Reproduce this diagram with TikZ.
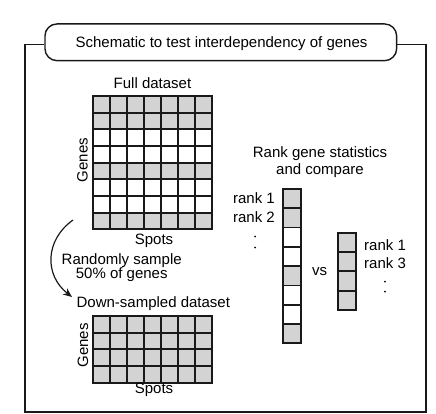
\documentclass[tikz,border=0pt]{standalone}
\usepackage{fontspec}
\setmainfont{Liberation Sans}
\usetikzlibrary{arrows.meta}
\definecolor{cellgray}{RGB}{211,211,211}
\definecolor{ink}{RGB}{25,25,25}
\begin{document}
\begin{tikzpicture}[x=1pt,y=-1pt,
  font=\fontsize{15}{17}\selectfont,
  lbl/.style={inner sep=0pt, anchor=base},
  cellbox/.style={draw=ink, line width=1.8pt},
  framebox/.style={draw=ink, line width=1.4pt},
  dotmark/.style={fill=black, draw=none, inner sep=0pt, minimum size=2pt, circle},
 ]
\useasboundingbox (0,0) rectangle (436,414);
% frame and title
\node[framebox, rounded corners=12pt, minimum width=351.7pt, minimum height=36.7pt, inner sep=0pt]
  (title) at (220.8,42.3) {};
\node[lbl] (titletext) at (221.5,48) {Schematic to test interdependency of genes};
\draw[framebox] ([yshift=-2pt]title.west) -| (25,412) -| (426,44.3) -- ([yshift=-2pt]title.east);
% full dataset grid
\node[lbl] (fulllbl) at (152.5,88.5) {Full dataset};
\foreach \r/\f in {0/cellgray,1/cellgray,2/white,3/white,4/cellgray,5/white,6/white,7/cellgray}{
  \foreach \c in {0,...,6}{
    \draw[cellbox, fill=\f] ({93.3+\c*16.91},{96+\r*16.67}) rectangle ++(16.91,16.67);
  }
}
\node[lbl, rotate=90] (genes1) at (87.5,160) {Genes};
\node[lbl] (spots1) at (154,244) {Spots};
% arrow
\coordinate (arrS) at (73,220);
\coordinate (arrE) at (72,297);
\draw[ink, line width=1.2pt, -{Stealth[length=9pt,width=7.5pt]}] (arrS) .. controls (45,240) and (44,275) .. (arrE);
\node[lbl, align=center, font={\fontsize{15}{14.5}\selectfont\lineskiplimit=-20pt}] (rand) at (121.7,278.5) {Randomly sample\\50\% of genes};
% down-sampled grid
\node[lbl] (downlbl) at (153.3,307) {Down-sampled dataset};
\foreach \r in {0,...,3}{
  \foreach \c in {0,...,6}{
    \draw[cellbox, fill=cellgray] ({93.3+\c*16.91},{316+\r*16.67}) rectangle ++(16.91,16.67);
  }
}
\node[lbl, rotate=90] (genes2) at (88,345.5) {Genes};
\node[lbl] (spots2) at (154,393.5) {Spots};
% rank statistics
\node[lbl] (rk1) at (320,157.3) {Rank gene statistics};
\node[lbl] (rk2) at (320,175) {and compare};
\foreach \r/\f in {0/cellgray,1/cellgray,2/white,3/white,4/cellgray,5/white,6/white,7/cellgray}{
  \draw[cellbox, fill=\f] (283.3,{189+\r*19.29}) rectangle ++(17.7,19.29);
}
\foreach \r in {0,...,3}{
  \draw[cellbox, fill=cellgray] (338.3,{232.7+\r*19.33}) rectangle ++(17.7,19.33);
}
\node[lbl, anchor=base east] (la1) at (275,204) {rank 1};
\node[lbl, anchor=base east] (la2) at (275,222.3) {rank 2};
\node[dotmark] (ld1) at (255,236.5) {};
\node[dotmark] (ld2) at (255,247.5) {};
\node[lbl] (vs) at (319.7,275) {vs};
\node[lbl, anchor=base west] (ra1) at (364,250) {rank 1};
\node[lbl, anchor=base west] (ra3) at (364,268.3) {rank 3};
\node[dotmark] (rd1) at (385,281.7) {};
\node[dotmark] (rd2) at (385,291.7) {};
\end{tikzpicture}
\end{document}
